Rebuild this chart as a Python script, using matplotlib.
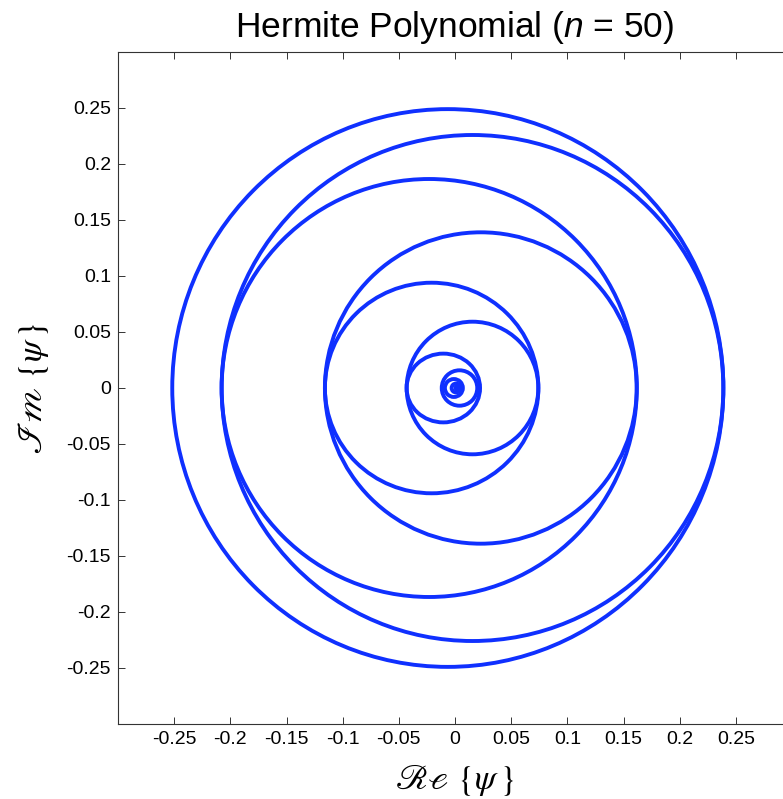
import numpy as np
import matplotlib
matplotlib.use('Agg')
import matplotlib.pyplot as plt
from matplotlib.patches import Ellipse

# loops of the curve (centre x, half widths)
loop_cx = [-0.0064, 0.0156, -0.0230, 0.0230, -0.0208, 0.0156, -0.0104, 0.0040, -0.0010, 0.0010, 0.0020]
loop_cy = [0.0, 0.0, 0.0, 0.0, 0.0, 0.0, 0.0, 0.0, 0.0, 0.0, 0.0]
loop_rx = [0.2453, 0.2233, 0.1848, 0.1388, 0.0950, 0.0586, 0.0327, 0.0158, 0.0080, 0.0040, 0.0015]
loop_ry = [0.2490, 0.2259, 0.1866, 0.1390, 0.0940, 0.0592, 0.0307, 0.0158, 0.0080, 0.0040, 0.0015]

tick_vals = [-0.25, -0.2, -0.15, -0.1, -0.05, 0, 0.05, 0.1, 0.15, 0.2, 0.25]
tick_labels = ['-0.25', '-0.2', '-0.15', '-0.1', '-0.05', '0', '0.05', '0.1', '0.15', '0.2', '0.25']

plt.rcParams['font.family'] = ['Liberation Sans', 'DejaVu Sans']
plt.rcParams['mathtext.fontset'] = 'custom'
plt.rcParams['mathtext.rm'] = 'Liberation Sans'
plt.rcParams['mathtext.it'] = 'Liberation Sans:italic'
plt.rcParams['axes.unicode_minus'] = False

fig = plt.figure(figsize=(7.83, 7.99), dpi=100)
# axes runs a bit past the right edge, like the cropped original
ax = fig.add_axes([118 / 783, 75 / 799, 674 / 783, 672 / 799])

line_col = '#0f30ff'
for cx, cy, rx, ry in zip(loop_cx, loop_cy, loop_rx, loop_ry):
    ax.add_patch(Ellipse((cx, cy), 2 * rx, 2 * ry, fill=False, ec=line_col, lw=2.8))

ax.set_xlim(-0.3, 0.3)
ax.set_ylim(-0.3, 0.3)
ax.set_xticks(tick_vals)
ax.set_xticklabels(tick_labels)
ax.set_yticks(tick_vals)
ax.set_yticklabels(tick_labels)
ax.tick_params(direction='in', length=5, width=0.7, top=True, right=True,
               labelsize=14, pad=5, color='#333333')
for s in ax.spines.values():
    s.set_color('#333333')
    s.set_linewidth(0.8)

ax.set_title(r'Hermite Polynomial ($n$ = 50)', fontsize=25.5, pad=11)
ax.set_xlabel(r'$\mathscr{R}\mathscr{e}\ \{\psi\,\}$', fontsize=25, labelpad=10,
              math_fontfamily='stix')
ax.set_ylabel(r'$\mathscr{I}\mathscr{m}\ \{\psi\,\}$', fontsize=25, labelpad=11,
              math_fontfamily='stix')

fig.savefig('out.png', dpi=100)
